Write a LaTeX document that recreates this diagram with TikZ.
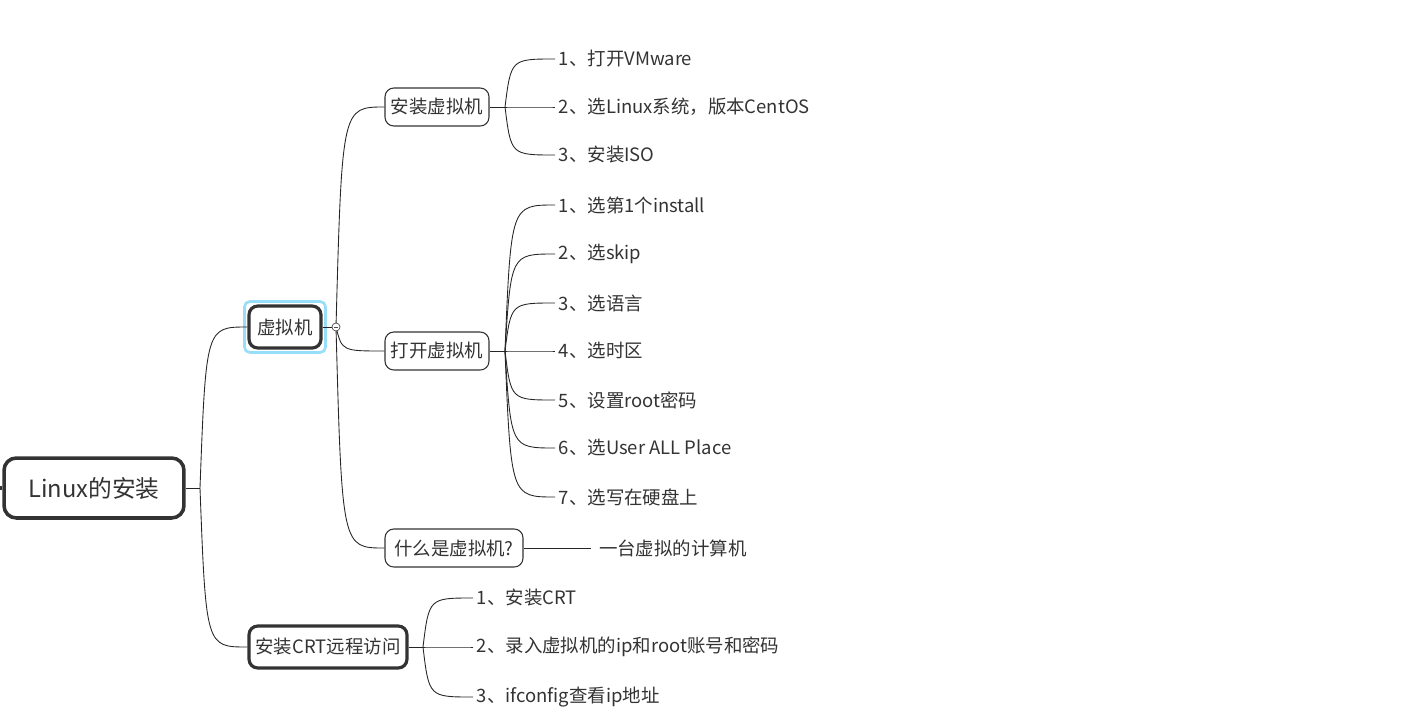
\documentclass[tikz,border=0pt]{standalone}
\usepackage{fontspec}
\setmainfont{Noto Sans CJK SC}
\usepackage{tikz}
\usepackage{xcolor}
\usetikzlibrary{calc}

\begin{document}
\begin{tikzpicture}[x=0.02cm,y=-0.02cm]
      \useasboundingbox(0,0) rectangle (1406,720);
      \tikzset{T/.style = {shape=rectangle, rounded corners=5pt, draw=black!80, line width=0.6pt, text=black!80, font=\fontsize{10.5}{12}\selectfont, minimum height=0.76cm, inner sep=0pt}}
      \tikzset{M/.style = {T, line width=1.8pt, minimum height=0.84cm}}
      \tikzset{L/.style = {anchor=west, inner sep=2pt, text=black!80, font=\fontsize{10.5}{12}\selectfont}}
      \tikzset{E/.style = {draw=black!85, line width=0.5pt, to path={.. controls ($(\tikztostart |- \tikztotarget)+(6,0)$) .. (\tikztotarget)}}}
      % main topics
      \node[M, line width=2pt, rounded corners=7pt, minimum width=3.6cm, minimum height=1.2cm, font=\fontsize{13.5}{15}\selectfont](root) at (94,488) {Linux的安装};
      \node[draw=cyan!40, line width=1.5pt, rounded corners=3pt, minimum width=1.62cm, minimum height=1.02cm](sel) at (285,327) {};
      \node[M, minimum width=1.44cm](vm) at (285,327) {虚拟机};
      \node[M, minimum width=3.16cm](crt) at (328,647) {安装CRT远程访问};
      % subtopics
      \node[T, minimum width=2.08cm](inst) at (437,107) {安装虚拟机};
      \node[T, minimum width=2.08cm](open) at (437,351) {打开虚拟机};
      \node[T, minimum width=2.76cm](what) at (454,548) {什么是虚拟机?};
      % leaves
      \node[L](i1) at (555,59) {1、打开VMware};
      \node[L](i2) at (555,107) {2、选Linux系统，版本CentOS};
      \node[L](i3) at (555,155) {3、安装ISO};
      \node[L](o1) at (555,205) {1、选第1个install};
      \node[L](o2) at (555,254) {2、选skip};
      \node[L](o3) at (555,303) {3、选语言};
      \node[L](o4) at (555,351) {4、选时区};
      \node[L](o5) at (555,400) {5、设置root密码};
      \node[L](o6) at (555,448) {6、选User ALL Place};
      \node[L](o7) at (555,497) {7、选写在硬盘上};
      \node[L](w1) at (591,548) {\ 一台虚拟的计算机};
      \node[L](c1) at (473,598) {1、安装CRT};
      \node[L](c2) at (473,647) {2、录入虚拟机的ip和root账号和密码};
      \node[L](c3) at (473,697) {3、ifconfig查看ip地址};
      % forks
      \coordinate(f0) at (200,488);
      \coordinate(f1) at (336,327);
      \coordinate(f2) at (505,107);
      \coordinate(f3) at (505,351);
      \coordinate(f4) at (423,647);
      \coordinate(s0) at (0,488);
      \draw[line width=2pt, black!80](s0) -- (root.west);
      \draw[E](root.east) -- (f0);
      \draw[E](f0) to (vm.west);
      \draw[E](f0) to (crt.west);
      \draw[E](vm.east) -- (f1);
      \draw[E](f1) to (inst.west);
      \draw[E](f1) to (open.west);
      \draw[E](f1) to (what.west);
      \draw[black!70, fill=white, line width=0.4pt](f1) circle (4);
      \draw[black!70, line width=0.4pt]($(f1)+(-2,0)$) -- ($(f1)+(2,0)$);
      \draw[E](inst.east) -- (f2);
      \draw[E](f2) to (i1.west);
      \draw[E](f2) to (i2.west);
      \draw[E](f2) to (i3.west);
      \draw[E](open.east) -- (f3);
      \draw[E](f3) to (o1.west);
      \draw[E](f3) to (o2.west);
      \draw[E](f3) to (o3.west);
      \draw[E](f3) to (o4.west);
      \draw[E](f3) to (o5.west);
      \draw[E](f3) to (o6.west);
      \draw[E](f3) to (o7.west);
      \draw[E](what.east) -- (w1.west);
      \draw[E](crt.east) -- (f4);
      \draw[E](f4) to (c1.west);
      \draw[E](f4) to (c2.west);
      \draw[E](f4) to (c3.west);
    \end{tikzpicture}
\end{document}
